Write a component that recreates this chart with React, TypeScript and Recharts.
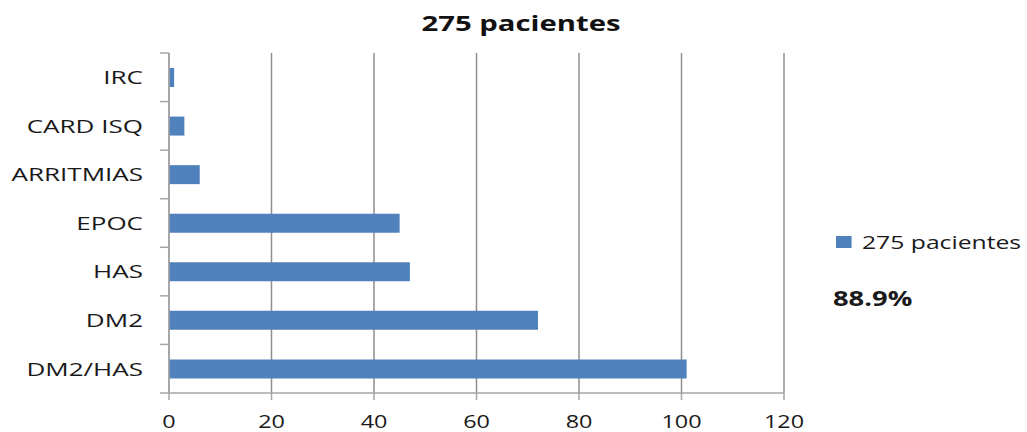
import React from 'react';
import { BarChart, Bar, XAxis, YAxis, CartesianGrid, Legend } from 'recharts';

const categories = ['IRC', 'CARD ISQ', 'ARRITMIAS', 'EPOC', 'HAS', 'DM2', 'DM2/HAS'];
const values = [1, 3, 6, 45, 47, 72, 101];
const xTicks = [0, 20, 40, 60, 80, 100, 120];
const seriesName = '275 pacientes';
const chartTitle = '275 pacientes';
const noteText = '88.9%';

const data = categories.map((name, i) => ({ name, value: values[i] }));

const W = 1027;
const H = 432;
const MARGIN = { top: 53, right: 243, bottom: 9, left: 0 };
const X_AXIS_H = 30;
const Y_AXIS_W = 169;
const PLOT_H = H - MARGIN.top - MARGIN.bottom - X_AXIS_H;
const HALF_BAND = PLOT_H / categories.length / 2;
const SX = 1.3;
const SX_Y = 1.37;
const FONT = '"Open Sans", sans-serif';
const AXIS_COLOR = '#A6A6A6';
const GRID_COLOR = '#8E8E8E';
const BAR_COLOR = '#4F81BD';
const TEXT_COLOR = '#1a1a1a';

const YTick = (props: any) => {
  const { x, y, payload, index } = props;
  return (
    <g>
      <line x1={x - 9} x2={x} y1={y + HALF_BAND} y2={y + HALF_BAND} stroke={AXIS_COLOR} strokeWidth={1.5} />
      {index === 0 && (
        <line x1={x - 9} x2={x} y1={y - HALF_BAND} y2={y - HALF_BAND} stroke={AXIS_COLOR} strokeWidth={1.5} />
      )}
      <g transform={`translate(${x - 26},${y}) scale(${SX_Y},1)`}>
        <text x={0} y={0} dy="0.36em" textAnchor="end" fontFamily={FONT} fontSize={19} fill={TEXT_COLOR}>
          {payload.value}
        </text>
      </g>
    </g>
  );
};

const XTick = (props: any) => {
  const { x, payload } = props;
  const baseline = H - MARGIN.bottom - X_AXIS_H + 35;
  return (
    <g transform={`translate(${x},${baseline}) scale(${SX},1)`}>
      <text x={0} y={0} textAnchor="middle" fontFamily={FONT} fontSize={18} fill={TEXT_COLOR}>
        {payload.value}
      </text>
    </g>
  );
};

const LegendContent = () => (
  <div style={{ transform: `scaleX(${SX})`, transformOrigin: 'left top', fontFamily: FONT, color: TEXT_COLOR, whiteSpace: 'nowrap' }}>
    <div style={{ display: 'flex', alignItems: 'center', height: 26 }}>
      <span style={{ display: 'inline-block', width: 12.3, height: 12.5, background: BAR_COLOR, marginRight: 7.7 }} />
      <span style={{ fontSize: 19, lineHeight: '26px' }}>{seriesName}</span>
    </div>
    <div style={{ fontSize: 21, fontWeight: 700, marginTop: 30, marginLeft: -2.3, lineHeight: '27px' }}>{noteText}</div>
  </div>
);

export default function App() {
  return (
    <div style={{ position: 'absolute', left: 0, top: 0, width: W, height: H, background: '#fff' }}>
      <div
        style={{
          position: 'absolute',
          left: 521,
          top: 11,
          transform: `translateX(-50%) scaleX(1.33)`,
          fontFamily: FONT,
          fontWeight: 700,
          fontSize: 22,
          lineHeight: '22px',
          color: '#111',
          whiteSpace: 'nowrap',
          zIndex: 2,
        }}
      >
        {chartTitle}
      </div>
      <BarChart width={W} height={H} data={data} layout="vertical" margin={MARGIN} barSize={19}>
        <CartesianGrid horizontal={false} vertical={true} stroke={GRID_COLOR} strokeWidth={1.5} />
        <XAxis
          type="number"
          domain={[0, 120]}
          ticks={xTicks}
          height={X_AXIS_H}
          tickSize={7}
          tickLine={{ stroke: AXIS_COLOR, strokeWidth: 1.5 }}
          axisLine={{ stroke: AXIS_COLOR, strokeWidth: 1.5 }}
          tick={(p: any) => <XTick {...p} />}
          interval={0}
        />
        <YAxis
          type="category"
          dataKey="name"
          width={Y_AXIS_W}
          tickSize={0}
          tickMargin={0}
          tickLine={false}
          axisLine={{ stroke: AXIS_COLOR, strokeWidth: 1.5 }}
          tick={(p: any) => <YTick {...p} />}
          interval={0}
        />
        <Legend
          layout="horizontal"
          verticalAlign="middle"
          align="center"
          content={() => <LegendContent />}
          wrapperStyle={{ left: 836, top: 229, width: 'auto', height: 'auto' }}
        />
        <Bar dataKey="value" name={seriesName} fill={BAR_COLOR} isAnimationActive={false} />
      </BarChart>
    </div>
  );
}
